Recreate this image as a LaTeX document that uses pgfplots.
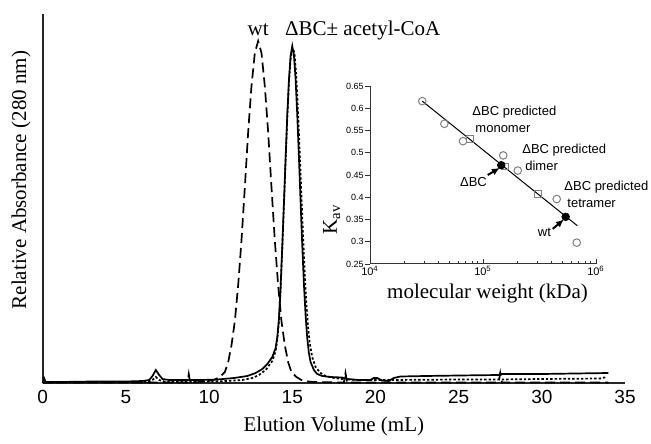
\documentclass[border=0pt]{standalone}
\usepackage{pgfplots}
\pgfplotsset{compat=1.18}
\usepackage{fontspec}
\setmainfont{Liberation Serif}
\setsansfont{Liberation Sans}
\usetikzlibrary{arrows.meta}
\begin{document}
\begin{tikzpicture}
\path[use as bounding box] (0,0) rectangle (325.5pt,221.5pt);
\begin{axis}[
  at={(21.35pt,30pt)}, anchor=south west, scale only axis,
  width=291.15pt, height=184.5pt,
  xmin=0, xmax=35, ymin=0, ymax=369,
  axis lines=left, axis line style={-, line width=1pt, black!85},
  xtick={0,5,...,35}, ytick=\empty, major tick length=0pt,
  /pgf/number format/assume math mode=true,
  xticklabel style={font=\sffamily\fontsize{9.5}{9.5}\selectfont},
  xlabel={Elution Volume (mL)}, ylabel={Relative Absorbance (280 nm)},
  label style={font=\fontsize{10.5}{12}\selectfont},
  xlabel style={at={(axis description cs:0.5,0)}, anchor=north, yshift=-17pt, inner sep=0pt},
  ylabel style={at={(axis description cs:-0.02,0.55)}, anchor=south, inner sep=0pt},
  clip=false,
]
% wt (dashed)
\addplot[black, line width=0.85pt, dash pattern=on 5pt off 2.5pt] coordinates {
(0,0.5) (8.7,0.5) (8.78,9) (8.86,0.5) (9.5,1) (9.95,2) (10.35,3.5) (10.65,6) (10.95,11)
(11.15,21) (11.35,38) (11.55,62) (11.75,98) (11.95,143) (12.15,196) (12.35,251) (12.55,297)
(12.75,330) (12.95,342) (13.15,330) (13.35,297) (13.55,251) (13.75,196) (13.95,143) (14.15,98)
(14.35,62) (14.55,38) (14.75,21) (14.95,11) (15.25,6) (15.55,3) (15.95,1.5) (16.3,1)
(18.1,0.5) (18.2,10) (18.3,0.5) (27.4,0.5) (27.5,10) (27.6,0.5) (34,0.5)};
% dBC + acetyl-CoA (dotted)
\addplot[black, line width=0.85pt, dash pattern=on 1.2pt off 1pt] coordinates {
(0,0.5) (6.3,1) (6.6,3) (6.8,6) (7.0,3) (7.4,1) (8.5,1) (10,1.5) (11,2) (12,3) (12.6,5)
(13.0,8) (13.4,13) (13.8,22) (14.0,32) (14.1,43) (14.2,62) (14.3,94) (14.4,135) (14.5,178)
(14.6,222) (14.7,265) (14.8,300) (14.9,324) (15.0,333) (15.07,334) (15.15,327) (15.25,304)
(15.35,270) (15.45,230) (15.55,188) (15.65,147) (15.75,110) (15.85,79) (15.95,56) (16.05,40)
(16.2,26) (16.4,16) (16.7,10) (17.0,7) (17.5,5) (18.0,4) (18.2,6) (18.3,3.5) (19,3) (21,3)
(25,3.5) (27.4,3.5) (30,4) (33.5,4.5) (33.9,6)};
% dBC (solid)
\addplot[black, line width=0.85pt] coordinates {
(0,0) (0.08,5) (0.18,1) (1,1) (3,1.5) (5,1.5) (6,2) (6.4,3) (6.6,7) (6.8,13) (7.0,8) (7.2,4)
(7.6,3) (8.5,3) (9.5,3) (10.5,3.5) (11.5,5) (12.3,7) (12.8,10) (13.2,14) (13.5,19) (13.8,26)
(14.0,35) (14.1,46) (14.2,64) (14.3,96) (14.4,137) (14.5,180) (14.6,225) (14.7,268) (14.8,303)
(14.9,327) (15.0,337) (15.1,328) (15.2,304) (15.3,268) (15.4,226) (15.5,181) (15.6,138)
(15.7,99) (15.8,68) (15.9,45) (16.0,30) (16.1,21) (16.3,13) (16.5,9) (16.8,7) (17.3,6)
(18.0,5.5) (18.3,4) (19,3) (19.7,3) (19.9,5) (20.1,5) (20.4,2.5) (20.8,2) (21.1,5) (21.5,6.5)
(23,7) (25,7.5) (27.4,8) (27.5,9) (30,9) (34,10)};
\node[anchor=base, font=\fontsize{10.5}{12}\selectfont, inner sep=0pt] at (axis cs:12.95,347) {wt};
\node[anchor=base west, font=\fontsize{10.5}{12}\selectfont, inner sep=0pt] at (axis cs:14.55,347) {ΔBC± acetyl-CoA};
\end{axis}

\begin{axis}[
  at={(185pt,89.5pt)}, anchor=south west, scale only axis,
  width=113pt, height=89pt,
  xmode=log, xmin=1e4, xmax=1e6, ymin=0.25, ymax=0.65,
  axis lines=left, axis line style={-, line width=0.5pt, black!80},
  tick align=inside, major tick length=2.5pt, minor tick length=1.5pt,
  tick style={black!80, line width=0.4pt},
  ytick style={xshift=-2.5pt},
  xtick={1e4,1e5,1e6}, xticklabels={10\textsuperscript{4},10\textsuperscript{5},10\textsuperscript{6}},
  ytick={0.25,0.3,0.35,0.4,0.45,0.5,0.55,0.6,0.65},
  yticklabels={0.25,0.3,0.35,0.4,0.45,0.5,0.55,0.6,0.65},
  /pgf/number format/assume math mode=true,
  yticklabel style={font=\sffamily\fontsize{4.5}{5}\selectfont, inner sep=0.5pt, xshift=-2.5pt},
  xticklabel style={font=\sffamily\fontsize{5.5}{6}\selectfont, inner sep=1pt},
  xlabel={molecular weight (kDa)}, ylabel={K\textsubscript{av}},
  label style={font=\fontsize{10.5}{12}\selectfont},
  xlabel style={at={(axis description cs:0.52,0)}, anchor=north, yshift=-10pt, inner sep=0pt},
  ylabel style={at={(axis description cs:-0.13,0.25)}, anchor=south, inner sep=0pt},
  clip=false,
]
\addplot[black, line width=0.5pt] coordinates {(29000,0.616) (684000,0.336)};
\addplot[only marks, mark=o, mark size=1.9pt, gray, mark options={line width=0.5pt}] coordinates {
(29000,0.616) (45500,0.565) (66500,0.526) (151000,0.494) (203000,0.460) (449000,0.396) (675000,0.298)};
\addplot[only marks, mark=square, mark size=1.7pt, gray, mark options={line width=0.5pt}] coordinates {
(77300,0.530) (156000,0.469) (305000,0.407)};
\addplot[only marks, mark=*, mark size=1.9pt, black] coordinates {
(145000,0.472) (539000,0.356)};
\begin{scope}[font=\sffamily\fontsize{6.5}{8.5}\selectfont]
\node[anchor=north west, align=left, inner sep=0pt] at (axis cs:80000,0.605) {ΔBC predicted\\\hspace*{1.5pt}monomer};
\node[anchor=north west, align=left, inner sep=0pt] at (axis cs:221000,0.520) {ΔBC predicted\\\hspace*{1.5pt}dimer};
\node[anchor=north west, align=left, inner sep=0pt] at (axis cs:521000,0.437) {ΔBC predicted\\\hspace*{1.5pt}tetramer};
\node[inner sep=0pt] at (axis cs:82400,0.434) {ΔBC};
\node[inner sep=0pt] at (axis cs:350000,0.322) {wt};
\end{scope}
\draw[-{Latex[length=4pt,width=3.5pt]}, line width=1pt] (axis cs:110000,0.450) -- (axis cs:141000,0.466);
\draw[-{Latex[length=4pt,width=3.5pt]}, line width=1pt] (axis cs:414000,0.329) -- (axis cs:520000,0.350);
\end{axis}
\end{tikzpicture}
\end{document}
